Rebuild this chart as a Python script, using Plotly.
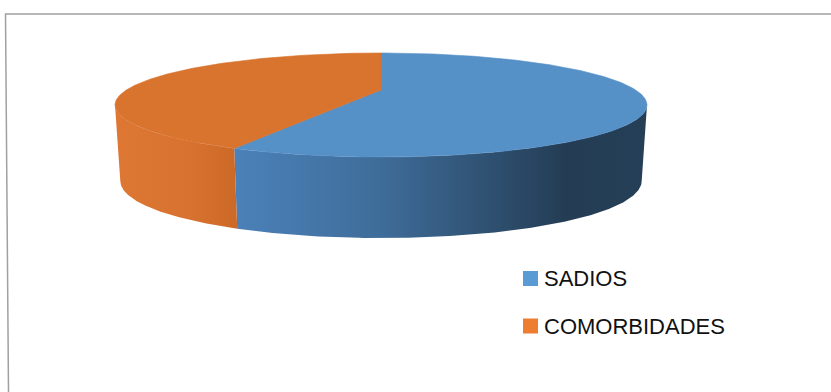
import numpy as np
import plotly.graph_objects as go

# Data
categories = ["SADIOS", "COMORBIDADES"]
values = [57, 43]

# Styling
top_colors = ["#5590c7", "#d9742f"]
legend_colors = ["#5b9bd5", "#ed7d31"]
side_scales = [
    [[0, "#4b81b9"], [0.35, "#3f6d9a"], [0.8, "#243d55"], [1, "#243f57"]],
    [[0, "#dd7733"], [0.6, "#d87230"], [1, "#cc6926"]],
]

W, H = 831, 392

# 3D pie projection parameters (screen units)
CX, CY = 381.0, 90.0      # projected pie centre
A0 = 254.7                # horizontal radius
BY = 47.7                 # vertical radius
PERSP = 0.2885            # perspective strength on the top face
DEPTH = 74.1              # wall thickness
DEPTH_P = 0.085           # perspective on the wall thickness
SHRINK = 0.98             # bottom rim slightly narrower


def top_point(theta_deg):
    t = np.radians(theta_deg)
    X, Y = np.sin(t), np.cos(t)
    w = 1 + PERSP * Y
    return CX + A0 * X / w, CY - BY * Y / w


def bottom_point(theta_deg):
    t = np.radians(theta_deg)
    X, Y = np.sin(t), np.cos(t)
    w = 1 + PERSP * Y
    x = CX + A0 * SHRINK * X / w
    y = CY - BY * Y / w + DEPTH / (1 + DEPTH_P * Y)
    return x, y


total = float(sum(values))
bounds = np.concatenate([[0.0], np.cumsum(values) / total * 360.0])

# angular range where the outer wall faces the viewer
vis_a = np.degrees(np.arccos(-PERSP))
vis_b = 360.0 - vis_a

fig = go.Figure()

# outer walls
for i, name in enumerate(categories):
    t0, t1 = bounds[i], bounds[i + 1]
    s0, s1 = max(t0, vis_a), min(t1, vis_b)
    if s1 <= s0:
        continue
    th = np.linspace(s0, s1, 160)
    tx, ty = top_point(th)
    bx, by = bottom_point(th[::-1])
    xs = np.concatenate([tx, bx, tx[:1]])
    ys = np.concatenate([ty, by, ty[:1]])
    fig.add_trace(go.Scatter(
        x=xs, y=ys, mode="lines", fill="toself",
        line=dict(width=0),
        fillgradient=dict(type="horizontal", colorscale=side_scales[i],
                          start=float(xs.min()), stop=float(xs.max())),
        hoverinfo="skip", showlegend=False,
    ))

# top faces
for i, name in enumerate(categories):
    t0, t1 = bounds[i], bounds[i + 1]
    th = np.linspace(t0, t1, 300)
    ax, ay = top_point(th)
    xs = np.concatenate([[CX], ax, [CX]])
    ys = np.concatenate([[CY], ay, [CY]])
    fig.add_trace(go.Scatter(
        x=xs, y=ys, mode="lines", fill="toself",
        fillcolor=top_colors[i], line=dict(width=0.6, color=top_colors[i]),
        name=name, hoverinfo="name", showlegend=False,
    ))

# legend
leg_x, leg_y0, leg_dy = 530.5, 278.5, 47.5
for i, name in enumerate(categories):
    y = leg_y0 + i * leg_dy
    fig.add_trace(go.Scatter(
        x=[leg_x], y=[y], mode="markers",
        marker=dict(symbol="square", size=15, color=legend_colors[i],
                    line=dict(width=0)),
        hoverinfo="skip", showlegend=False,
    ))
    fig.add_annotation(
        x=542, y=y, xref="x", yref="y", text=name, showarrow=False,
        xanchor="left", yanchor="middle",
        font=dict(family="Liberation Sans", size=22, color="#111111"),
    )

# chart frame
fig.add_shape(type="path", path="M 8.5 392 L 5.5 14 L 831 14",
              xref="x", yref="y", line=dict(color="#a0a0a0", width=1.5))

fig.update_layout(
    width=W, height=H,
    margin=dict(l=0, r=0, t=0, b=0),
    paper_bgcolor="white", plot_bgcolor="white",
    xaxis=dict(range=[0, W], visible=False, fixedrange=True),
    yaxis=dict(range=[H, 0], visible=False, fixedrange=True),
    showlegend=False,
)

fig.write_html("out.html")
